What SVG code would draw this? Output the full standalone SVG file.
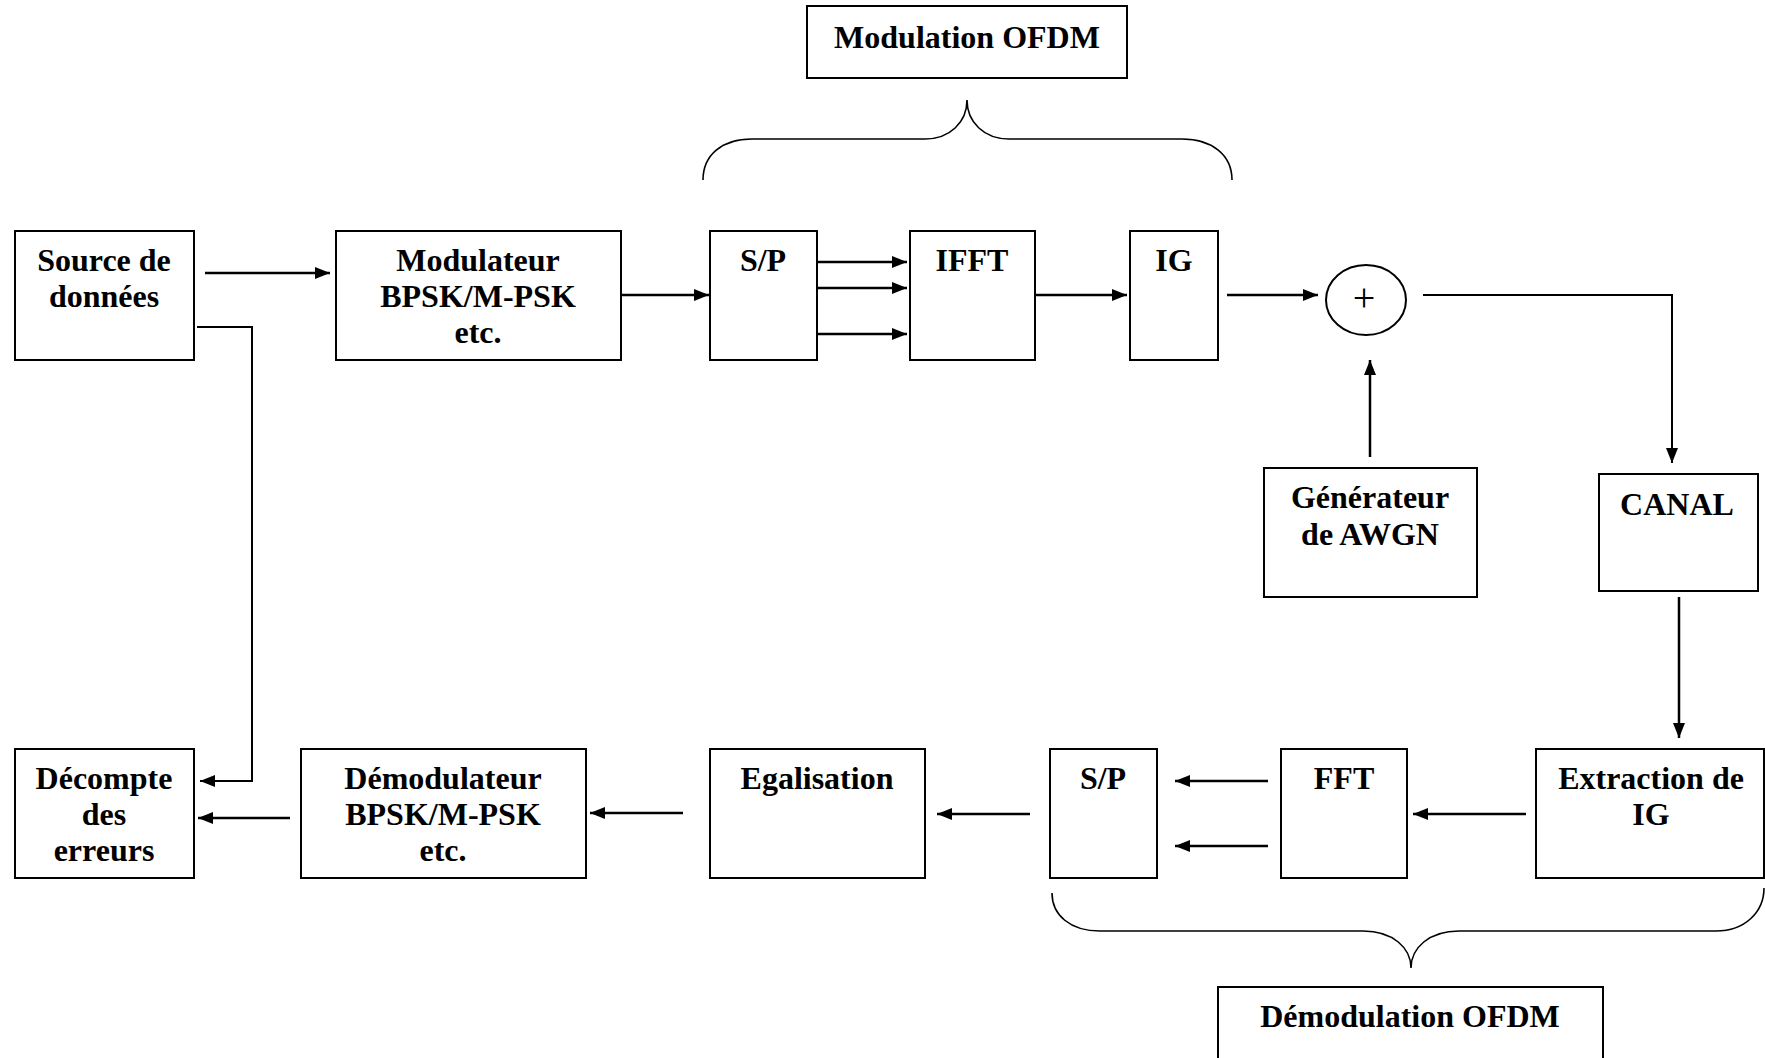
<svg xmlns="http://www.w3.org/2000/svg" width="1765" height="1058" viewBox="0 0 1765 1058">
<style>
.box{fill:#fff;stroke:#000;stroke-width:2}
.t{font-family:"Liberation Serif","Times New Roman",serif;font-weight:bold;font-size:32px;text-anchor:middle;fill:#000}
.ln{fill:none;stroke:#000;stroke-width:2.5}
.thin{fill:none;stroke:#000;stroke-width:2}
.brace{fill:none;stroke:#000;stroke-width:1.6}
</style>
<defs>
<marker id="ah" markerUnits="userSpaceOnUse" markerWidth="16" markerHeight="14" refX="15" refY="6" orient="auto">
<path d="M0,0 L15,6 L0,12 z" fill="#000"/>
</marker>
</defs>
<rect width="1765" height="1058" fill="#fff"/>

<g id="modulation-ofdm">
<rect class="box" x="807" y="6" width="320" height="72"/>
<text class="t" x="967" y="48">Modulation OFDM</text>
</g>
<g id="demodulation-ofdm">
<rect class="box" x="1218" y="987" width="385" height="90"/>
<text class="t" x="1410" y="1027">Démodulation OFDM</text>
</g>

<g id="source">
<rect class="box" x="15" y="231" width="179" height="129"/>
<text class="t" x="104" y="271">Source de</text>
<text class="t" x="104" y="307">données</text>
</g>
<g id="modulateur">
<rect class="box" x="336" y="231" width="285" height="129"/>
<text class="t" x="478" y="271">Modulateur</text>
<text class="t" x="478" y="307">BPSK/M-PSK</text>
<text class="t" x="478" y="343">etc.</text>
</g>
<g id="sp1">
<rect class="box" x="710" y="231" width="107" height="129"/>
<text class="t" x="763" y="271">S/P</text>
</g>
<g id="ifft">
<rect class="box" x="910" y="231" width="125" height="129"/>
<text class="t" x="972" y="271">IFFT</text>
</g>
<g id="ig">
<rect class="box" x="1130" y="231" width="88" height="129"/>
<text class="t" x="1174" y="271">IG</text>
</g>
<g id="sum">
<ellipse cx="1366" cy="300" rx="40" ry="35" fill="#fff" stroke="#000" stroke-width="2"/>
<text x="1364" y="311" font-family="Liberation Serif, serif" font-size="40" text-anchor="middle">+</text>
</g>
<g id="generateur">
<rect class="box" x="1264" y="468" width="213" height="129"/>
<text class="t" x="1370" y="508">Générateur</text>
<text class="t" x="1370" y="545">de AWGN</text>
</g>
<g id="canal">
<rect class="box" x="1599" y="474" width="159" height="117"/>
<text class="t" x="1677" y="515">CANAL</text>
</g>
<g id="extraction">
<rect class="box" x="1536" y="749" width="228" height="129"/>
<text class="t" x="1651" y="789">Extraction de</text>
<text class="t" x="1651" y="825">IG</text>
</g>
<g id="fft">
<rect class="box" x="1281" y="749" width="126" height="129"/>
<text class="t" x="1344" y="789">FFT</text>
</g>
<g id="sp2">
<rect class="box" x="1050" y="749" width="107" height="129"/>
<text class="t" x="1103" y="789">S/P</text>
</g>
<g id="egalisation">
<rect class="box" x="710" y="749" width="215" height="129"/>
<text class="t" x="817" y="789">Egalisation</text>
</g>
<g id="demodulateur">
<rect class="box" x="301" y="749" width="285" height="129"/>
<text class="t" x="443" y="789">Démodulateur</text>
<text class="t" x="443" y="825">BPSK/M-PSK</text>
<text class="t" x="443" y="861">etc.</text>
</g>
<g id="decompte">
<rect class="box" x="15" y="749" width="179" height="129"/>
<text class="t" x="104" y="789">Décompte</text>
<text class="t" x="104" y="825">des</text>
<text class="t" x="104" y="861">erreurs</text>
</g>

<g id="braces">
<path class="brace" d="M703,180 C703,155 722,139 752,139 L925,139 C950,139 967,122 967,100 C967,122 984,139 1009,139 L1182,139 C1212,139 1232,155 1232,180"/>
<path class="brace" d="M1052,893 C1052,915 1070,931 1100,931 L1363,931 C1393,931 1411,948 1411,968 C1411,948 1429,931 1459,931 L1716,931 C1745,931 1764,912 1764,888"/>
</g>

<g id="connectors">
<line class="ln" x1="205" y1="273" x2="330" y2="273" marker-end="url(#ah)"/>
<line class="ln" x1="621" y1="295" x2="709" y2="295" marker-end="url(#ah)"/>
<line class="ln" x1="817" y1="262" x2="907" y2="262" marker-end="url(#ah)"/>
<line class="ln" x1="817" y1="288" x2="907" y2="288" marker-end="url(#ah)"/>
<line class="ln" x1="817" y1="334" x2="907" y2="334" marker-end="url(#ah)"/>
<line class="ln" x1="1035" y1="295" x2="1127" y2="295" marker-end="url(#ah)"/>
<line class="ln" x1="1227" y1="295" x2="1318" y2="295" marker-end="url(#ah)"/>
<polyline class="thin" points="1423,295 1672,295 1672,463" marker-end="url(#ah)"/>
<line class="ln" x1="1370" y1="457" x2="1370" y2="360" marker-end="url(#ah)"/>
<line class="ln" x1="1679" y1="597" x2="1679" y2="738" marker-end="url(#ah)"/>
<line class="ln" x1="1526" y1="814" x2="1413" y2="814" marker-end="url(#ah)"/>
<line class="ln" x1="1268" y1="781" x2="1175" y2="781" marker-end="url(#ah)"/>
<line class="ln" x1="1268" y1="846" x2="1175" y2="846" marker-end="url(#ah)"/>
<line class="ln" x1="1030" y1="814" x2="937" y2="814" marker-end="url(#ah)"/>
<line class="ln" x1="683" y1="813" x2="590" y2="813" marker-end="url(#ah)"/>
<line class="ln" x1="290" y1="818" x2="198" y2="818" marker-end="url(#ah)"/>
<polyline class="thin" points="197,327 252,327 252,781 200,781" marker-end="url(#ah)"/>
</g>
</svg>
